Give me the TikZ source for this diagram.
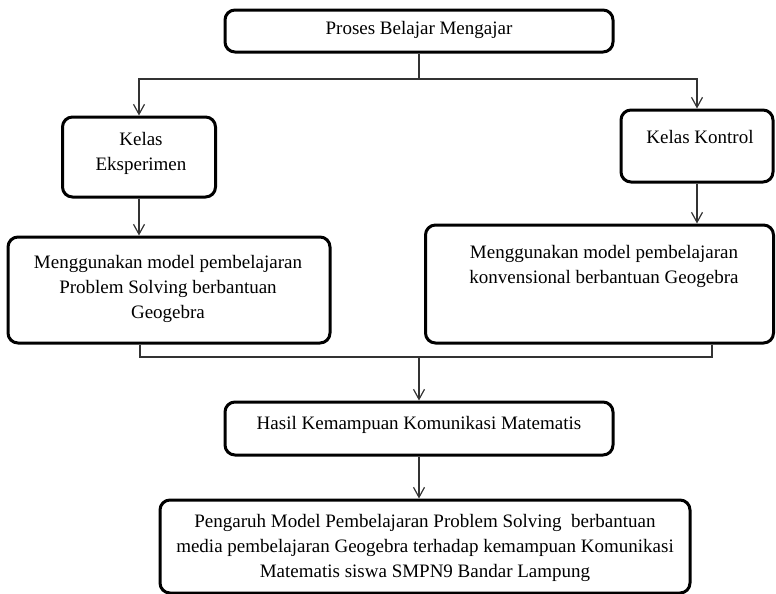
\documentclass[tikz,border=0pt]{standalone}
\usepackage{fontspec}
\setmainfont{Liberation Serif}
\usetikzlibrary{arrows.meta}
\begin{document}
\begin{tikzpicture}[x=0.5pt,y=-0.5pt,
  box/.style={draw=black,line width=1.5pt,rounded corners=5pt,inner sep=0pt},
  txt/.style={inner sep=0pt,align=center,font=\fontsize{9.5}{12.5}\selectfont},
  ln/.style={draw=black!80,line width=0.6pt},
  arr/.style={ln,-{Straight Barb[length=5pt,width=5.5pt]}}]
\useasboundingbox (0,0) rectangle (776,594);
% boxes
\node[box,minimum width=194pt,minimum height=21pt] (top) at (419,31) {};
\node[txt] (topt) at (419,30) {Proses Belajar Mengajar};
\node[box,minimum width=76.5pt,minimum height=40pt] (ke) at (139,157) {};
\node[txt] (ket) at (141,153) {Kelas\\Eksperimen};
\node[box,minimum width=76pt,minimum height=36pt] (kk) at (697,146) {};
\node[txt] (kkt) at (700,137) {Kelas Kontrol};
\node[box,minimum width=161pt,minimum height=53pt] (mpl) at (169,290) {};
\node[txt] (mplt) at (168,289) {Menggunakan model pembelajaran\\Problem Solving berbantuan\\Geogebra};
\node[box,minimum width=174pt,minimum height=59pt] (mpr) at (599.5,284) {};
\node[txt] (mprt) at (604,266) {Menggunakan model pembelajaran\\konvensional berbantuan Geogebra};
\node[box,minimum width=194pt,minimum height=26.5pt] (has) at (419,428.5) {};
\node[txt] (hast) at (419,425) {Hasil Kemampuan Komunikasi Matematis};
\node[box,minimum width=265pt,minimum height=46.5pt] (bot) at (425,546.5) {};
\node[txt] (bott) at (425,548) {Pengaruh Model Pembelajaran Problem Solving\ \ berbantuan\\media pembelajaran Geogebra terhadap kemampuan Komunikasi\\Matematis siswa SMPN9 Bandar Lampung};
% connectors
\coordinate (j1) at (419,79);
\coordinate (jl) at (140,357);
\coordinate (jr) at (712,357);
\coordinate (j2) at (419,357);
\draw[ln] (top.south) -- (j1);
\draw[arr] (j1) -| (ke.north);
\draw[arr] (j1) -| (kk.north);
\draw[arr] (ke.south) -- (ke.south |- mpl.north);
\draw[arr] (kk.south) -- (kk.south |- mpr.north);
\draw[ln] (mpl.south -| jl) -- (jl) -- (jr) -- (mpr.south -| jr);
\draw[arr] (j2) -- (has.north);
\draw[arr] (has.south) -- (has.south |- bot.north);
\end{tikzpicture}
\end{document}
